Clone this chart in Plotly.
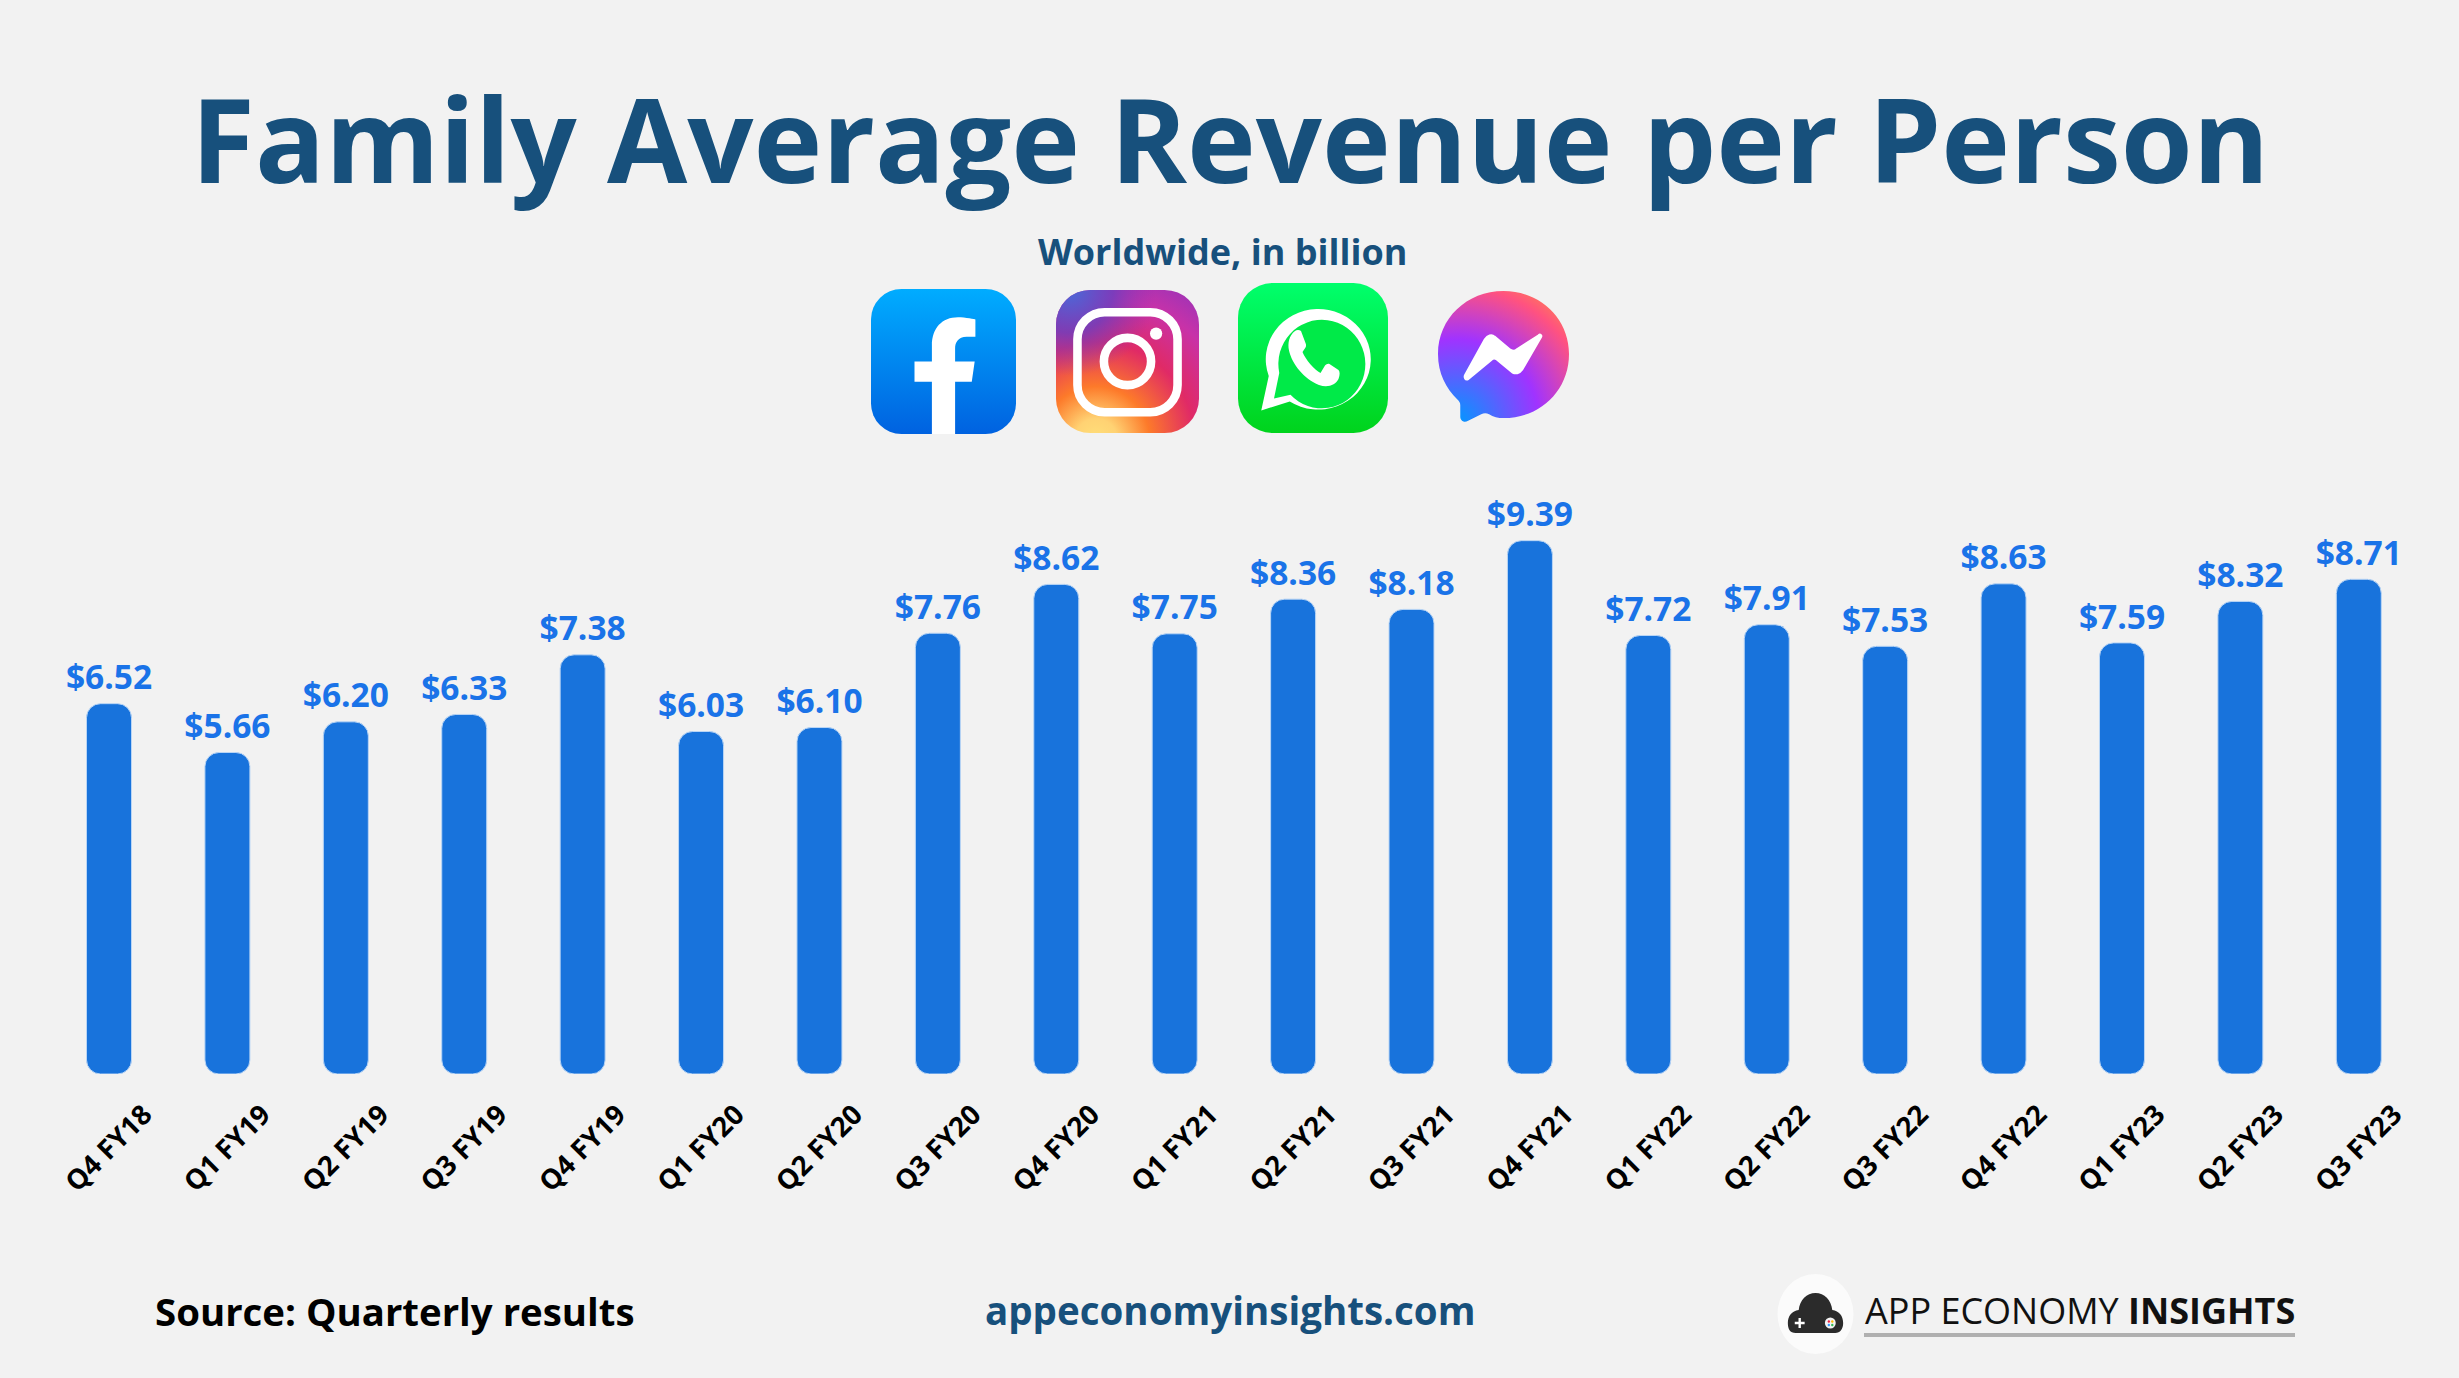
import base64
import plotly.graph_objects as go

W, H = 2459, 1378
categories = ["Q4 FY18","Q1 FY19","Q2 FY19","Q3 FY19","Q4 FY19","Q1 FY20","Q2 FY20","Q3 FY20","Q4 FY20","Q1 FY21",
              "Q2 FY21","Q3 FY21","Q4 FY21","Q1 FY22","Q2 FY22","Q3 FY22","Q4 FY22","Q1 FY23","Q2 FY23","Q3 FY23"]
values = [6.52,5.66,6.20,6.33,7.38,6.03,6.10,7.76,8.62,7.75,8.36,8.18,9.39,7.72,7.91,7.53,8.63,7.59,8.32,8.71]
labels = [f"${v:.2f}" for v in values]

TITLE = "#17507c"
BLUE = "#1873dc"
LABEL = "#1a73e8"
BG = "#f2f2f2"
FONT = "Open Sans"

def uri(svg):
    return "data:image/svg+xml;base64," + base64.b64encode(svg.encode()).decode()

FB = '''<svg xmlns="http://www.w3.org/2000/svg" viewBox="0 0 100 100" preserveAspectRatio="none">
<defs><linearGradient id="g" x1="0" y1="0" x2="0" y2="1"><stop offset="0" stop-color="#00acff"/><stop offset="1" stop-color="#0062e0"/></linearGradient></defs>
<rect width="100" height="100" rx="21" fill="url(#g)"/>
<path fill="#fff" d="M42 100V64H30V50H42V39C42 27 49 19.5 60 19.5C65 19.5 72 21 72 21V33H66C60 33 58 37 58 41V50H71.5L69.5 64H58V100Z"/></svg>'''

IG = '''<svg xmlns="http://www.w3.org/2000/svg" viewBox="0 0 100 100" preserveAspectRatio="none">
<defs>
<radialGradient id="a" cx="0.28" cy="1.05" r="1.25"><stop offset="0" stop-color="#ffe07a"/><stop offset="0.12" stop-color="#ffd273"/><stop offset="0.3" stop-color="#fd7a2a"/><stop offset="0.55" stop-color="#e02a66"/><stop offset="0.8" stop-color="#c832a8"/><stop offset="1" stop-color="#9a33b8"/></radialGradient>
<radialGradient id="b" cx="0.1" cy="0" r="0.6"><stop offset="0" stop-color="#4a6ad8"/><stop offset="0.5" stop-color="#6a3fc0" stop-opacity="0.8"/><stop offset="1" stop-color="#8a33b8" stop-opacity="0"/></radialGradient>
</defs>
<rect width="100" height="100" rx="24" fill="url(#a)"/><rect width="100" height="100" rx="24" fill="url(#b)"/>
<rect x="15" y="15.5" width="70" height="70" rx="19" fill="none" stroke="#fff" stroke-width="6"/>
<ellipse cx="50" cy="50" rx="16.5" ry="16.5" fill="none" stroke="#fff" stroke-width="6"/>
<circle cx="70" cy="30.5" r="4.3" fill="#fff"/></svg>'''

WA = '''<svg xmlns="http://www.w3.org/2000/svg" viewBox="0 0 100 100" preserveAspectRatio="none">
<defs><linearGradient id="g" x1="0" y1="0" x2="0" y2="1"><stop offset="0" stop-color="#00ff6c"/><stop offset="1" stop-color="#00d31c"/></linearGradient></defs>
<rect width="100" height="100" rx="23" fill="url(#g)"/>
<path fill="#fff" d="M15.5 85L20.5 62A35 33.5 0 1 1 34.5 79Z"/>
<path fill="#00ea48" d="M24 77L27.5 60A29 29.5 0 1 1 35 74.5Z"/>
<path fill="#fff" d="M38 32C34 35 33 40 34 45C36 54 44 64 54 68C60 70 65 68 67 64C68 61 68 59 67 58L61 54C60 53.5 59 54 58 55L55 60C51 58 45 51 43 46L45 43C45.5 42 45.5 41 45 40L42 32C41 31 39 31 38 32Z"/></svg>'''

MS = '''<svg xmlns="http://www.w3.org/2000/svg" viewBox="0 0 100 100" preserveAspectRatio="none">
<defs><radialGradient id="g" gradientUnits="userSpaceOnUse" cx="14" cy="100" r="115"><stop offset="0" stop-color="#0099ff"/><stop offset="0.55" stop-color="#a033ff"/><stop offset="0.9" stop-color="#ff5280"/><stop offset="1" stop-color="#ff7061"/></radialGradient></defs>
<path fill="url(#g)" d="M50 0C22 0 0 21 0 48C0 63 6 74 15 83C16 84 17 85 17 87V96C17 99 20 101 23 99L33 94C35 93 37 93 39 94C42 96 46 97 50 97C78 97 100 76 100 48C100 21 78 0 50 0Z"/>
<path fill="#fff" stroke="#fff" stroke-width="2" stroke-linejoin="round" d="M21 64L36 37C38 34 41 33 43 35L55 45C57 46 59 46 60 45L77 34C78 33 79 34 78.5 35L64 60C62 63 59 63 57 62L45 52C43.5 51 42 51 41 52L23 67C21 68 20 66 21 64Z"/></svg>'''

CLOUD = '''<svg xmlns="http://www.w3.org/2000/svg" viewBox="0 0 80 82" preserveAspectRatio="none">
<ellipse cx="40" cy="41" rx="38.5" ry="40" fill="#fbfbfb"/>
<path fill="#2b2b2b" d="M20 60C14 60 12 56 12 50C12 43 16 38 23 37C24 27 31 20 40 20C49 20 56 27 57 37C64 38 68 43 68 50C68 56 65 60 60 60Z"/>
<path stroke="#fff" stroke-width="2.4" d="M19 50H29M24 45V55"/>
<circle cx="55" cy="50" r="5.5" fill="#f3f3f3"/><circle cx="53.5" cy="48.5" r="1.2" fill="#e24"/><circle cx="57" cy="48.5" r="1.2" fill="#fb0"/><circle cx="53.5" cy="52" r="1.2" fill="#39f"/><circle cx="57" cy="52" r="1.2" fill="#3b5"/></svg>'''

def px_image(svg, x0, y0, x1, y1):
    return dict(source=uri(svg), xref="paper", yref="paper", x=x0 / W, y=1 - y0 / H,
                sizex=(x1 - x0) / W, sizey=(y1 - y0) / H, xanchor="left", yanchor="top",
                sizing="stretch", layer="above")

def note(text, x, y, size, color, weight=700, xanchor="center"):
    return dict(text=text, xref="paper", yref="paper", x=x / W, y=1 - y / H, showarrow=False,
                xanchor=xanchor, yanchor="middle", align="center",
                font=dict(family=FONT, size=size, color=color, weight=weight))

fig = go.Figure()
fig.add_bar(x=categories, y=values, base=[0] * len(values),
            marker=dict(color=BLUE, cornerradius=14, line=dict(width=1, color="#b9d5f5")), hoverinfo="skip")
fig.add_scatter(x=categories, y=values, mode="markers+text", text=labels, textposition="top center",
                marker=dict(size=8, opacity=0), cliponaxis=False,
                textfont=dict(family=FONT, size=33.5, color=LABEL, weight=700), hoverinfo="skip")

fig.update_layout(
    width=W, height=H, margin=dict(l=0, r=0, t=0, b=0, autoexpand=False),
    paper_bgcolor=BG, plot_bgcolor=BG, showlegend=False, barmode="overlay", bargap=0.62,
    xaxis=dict(domain=[49.8 / W, 2418 / W], range=[-0.5, 19.5], type="category", showgrid=False, zeroline=False,
               showline=False, ticks="", tickangle=-45, ticklabelshift=35, ticklabelstandoff=18,
               tickfont=dict(family=FONT, size=27.5, color="#000000", weight=700), automargin=False),
    yaxis=dict(domain=[1 - 1074 / H, 1 - 506 / H], range=[0, 10], visible=False, automargin=False),
    images=[px_image(FB, 871, 289, 1016, 434), px_image(IG, 1056, 290, 1199, 433),
            px_image(WA, 1238, 283, 1388, 433), px_image(MS, 1438, 291, 1569, 422),
            px_image(CLOUD, 1776, 1273, 1855, 1355)],
    shapes=[dict(type="line", xref="paper", yref="paper", x0=1864 / W, x1=2295 / W, y0=1 - 1335 / H, y1=1 - 1335 / H,
                 line=dict(color="#b0b0b0", width=4))],
    annotations=[
        note("Family Average Revenue per Person", 1230, 138, 116.4, TITLE),
        note("Worldwide, in billion", 1222, 252, 36, TITLE),
        note("Source: Quarterly results", 395, 1310.5, 38.4, "#000000"),
        note("appeconomyinsights.com", 1230, 1310, 38.5, TITLE),
        note("APP ECONOMY <b>INSIGHTS</b>", 1863, 1310, 36, "#111111", weight=400, xanchor="left"),
    ],
)
fig.write_html("out.html", config=dict(displayModeBar=False), post_script="document.body.style.margin='0';")
